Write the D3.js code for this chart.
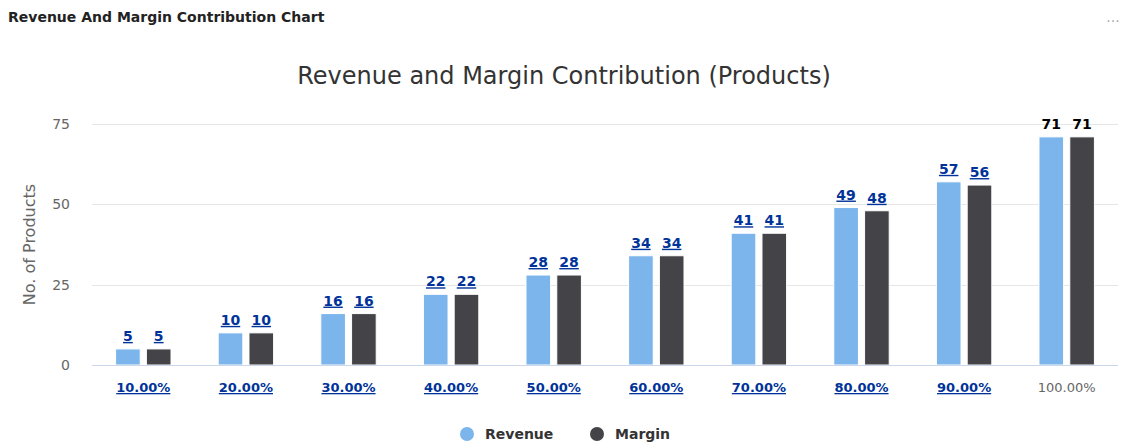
<!DOCTYPE html>
<html>
<head>
<meta charset="utf-8">
<script src="https://cdn.jsdelivr.net/npm/d3@7"></script>
<style>
  html, body { margin: 0; padding: 0; background: #fff; }
  svg { display: block; }
</style>
</head>
<body>
<div id="chart"></div>
<script>
// categories and values
var categories = ['10.00%', '20.00%', '30.00%', '40.00%', '50.00%', '60.00%', '70.00%', '80.00%', '90.00%', '100.00%']
var revenue = [5, 10, 16, 22, 28, 34, 41, 49, 57, 71]
var margin = [5, 10, 16, 22, 28, 34, 41, 48, 56, 71]
var yTicks = [0, 25, 50, 75]
var seriesNames = ['Revenue', 'Margin']

var width = 1121
var height = 446
var plot = { left: 92, right: 1118, top: 124, bottom: 365 }
var colors = ['#7cb5ec', '#434348']
var linkColor = '#003399'
var font = '"DejaVu Sans", Verdana, sans-serif'

var svg = d3.select('#chart').append('svg')
  .attr('width', width)
  .attr('height', height)
  .style('font-family', font)

// panel header
svg.append('text')
  .attr('x', 8)
  .attr('y', 22)
  .attr('font-size', 14)
  .attr('font-weight', 'bold')
  .attr('fill', '#222')
  .text('Revenue And Margin Contribution Chart')

svg.append('text')
  .attr('x', 1113)
  .attr('y', 22)
  .attr('text-anchor', 'middle')
  .attr('font-size', 14)
  .attr('fill', '#aaa')
  .text('...')

// chart title
svg.append('text')
  .attr('x', 564)
  .attr('y', 84)
  .attr('text-anchor', 'middle')
  .attr('font-size', 24)
  .attr('fill', '#333')
  .text('Revenue and Margin Contribution (Products)')

// scales
var x = d3.scaleBand()
  .domain(categories)
  .range([plot.left, plot.right])

var y = d3.scaleLinear()
  .domain([0, 75])
  .range([plot.bottom, plot.top])

// group layout like highcharts: groupPadding 0.2, pointPadding 0.1
var groupPad = 0.2
var x1 = d3.scaleBand()
  .domain(seriesNames)
  .range([x.bandwidth() * groupPad, x.bandwidth() * (1 - groupPad)])
  .paddingInner(0.2)
  .paddingOuter(0.1)

// grid lines
svg.append('g')
  .selectAll('line')
  .data(yTicks.filter(function(d) { return d > 0 }))
  .enter()
  .append('line')
  .attr('x1', plot.left)
  .attr('x2', plot.right)
  .attr('y1', function(d) { return Math.round(y(d)) + 0.5 })
  .attr('y2', function(d) { return Math.round(y(d)) + 0.5 })
  .attr('stroke', '#e6e6e6')

// y axis labels
var yAxis = d3.axisLeft(y).tickValues(yTicks).tickSize(0).tickPadding(22)
var gy = svg.append('g')
  .attr('transform', 'translate(' + plot.left + ',0)')
  .call(yAxis)
gy.select('.domain').remove()
gy.selectAll('text')
  .attr('font-size', 14)
  .attr('font-family', font)
  .attr('fill', '#666')

// y axis title
svg.append('text')
  .attr('transform', 'translate(35,' + ((plot.top + plot.bottom) / 2) + ') rotate(-90)')
  .attr('text-anchor', 'middle')
  .attr('font-size', 16)
  .attr('fill', '#666')
  .text('No. of Products')

// bars
var rows = categories.map(function(c, i) {
  return { cat: c, i: i, values: [revenue[i], margin[i]] }
})

var groups = svg.append('g')
  .selectAll('g')
  .data(rows)
  .enter()
  .append('g')
  .attr('transform', function(d) { return 'translate(' + x(d.cat) + ',0)' })

function points(d) {
  return d.values.map(function(v, k) { return { v: v, k: k, last: d.i === categories.length - 1 } })
}

groups.selectAll('rect')
  .data(points)
  .enter()
  .append('rect')
  .attr('x', function(d) { return x1(seriesNames[d.k]) })
  .attr('y', function(d) { return y(d.v) })
  .attr('width', x1.bandwidth())
  .attr('height', function(d) { return y(0) - y(d.v) })
  .attr('fill', function(d) { return colors[d.k] })
  .attr('stroke', '#fff')
  .attr('stroke-width', 1)

// data labels
groups.selectAll('text')
  .data(points)
  .enter()
  .append('text')
  .attr('x', function(d) { return x1(seriesNames[d.k]) + x1.bandwidth() / 2 })
  .attr('y', function(d) { return y(d.v) - 8 })
  .attr('text-anchor', 'middle')
  .attr('font-size', 14)
  .attr('font-weight', 'bold')
  .attr('fill', function(d) { return d.last ? '#000' : linkColor })
  .style('text-decoration', function(d) { return d.last ? 'none' : 'underline' })
  .text(function(d) { return d.v })

// x axis line
svg.append('line')
  .attr('x1', plot.left)
  .attr('x2', plot.right)
  .attr('y1', plot.bottom + 0.5)
  .attr('y2', plot.bottom + 0.5)
  .attr('stroke', '#ccd6eb')

// x axis labels (drilldown links, last one plain)
svg.append('g')
  .selectAll('text')
  .data(categories)
  .enter()
  .append('text')
  .attr('x', function(d) { return x(d) + x.bandwidth() / 2 })
  .attr('y', plot.bottom + 27)
  .attr('text-anchor', 'middle')
  .attr('font-size', 13)
  .attr('font-weight', function(d, i) { return i === categories.length - 1 ? 'normal' : 'bold' })
  .attr('fill', function(d, i) { return i === categories.length - 1 ? '#666' : linkColor })
  .style('text-decoration', function(d, i) { return i === categories.length - 1 ? 'none' : 'underline' })
  .text(function(d) { return d })

// legend
var legendX = [467, 597]
var legend = svg.append('g')
  .selectAll('g')
  .data(seriesNames)
  .enter()
  .append('g')
  .attr('transform', function(d, i) { return 'translate(' + legendX[i] + ',434)' })

legend.append('circle')
  .attr('r', 7)
  .attr('fill', function(d, i) { return colors[i] })

legend.append('text')
  .attr('x', 18)
  .attr('y', 5)
  .attr('font-size', 14)
  .attr('font-weight', 'bold')
  .attr('fill', '#333')
  .text(function(d) { return d })
</script>
</body>
</html>
